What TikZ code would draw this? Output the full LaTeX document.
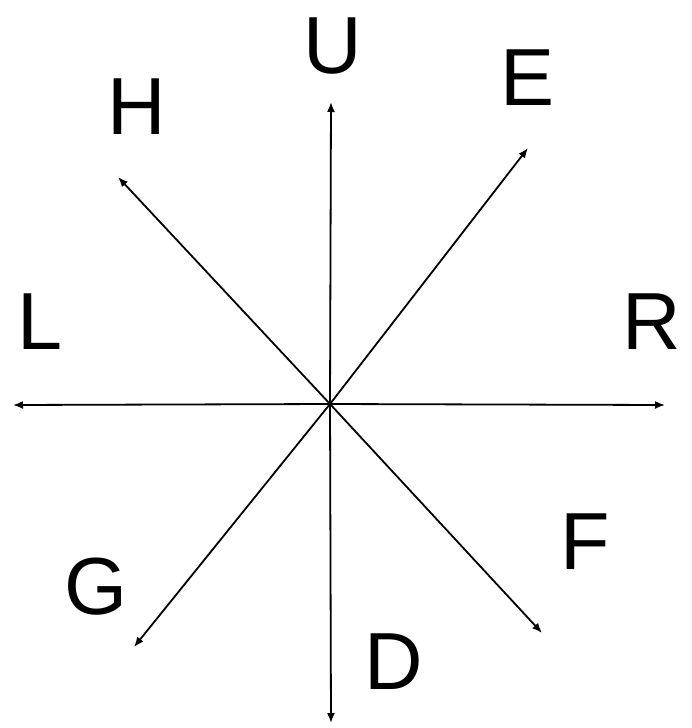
\documentclass[tikz,border=0pt]{standalone}
\usepackage{fontspec}
\setmainfont{Liberation Sans}
\usetikzlibrary{arrows.meta}
\begin{document}
\begin{tikzpicture}[x=1pt,y=-1pt,
  ray/.style={line width=1.8pt,-{Latex[length=10pt,width=8pt]}},
  lbl/.style={inner sep=0pt,font=\fontsize{81}{90}\selectfont}]
\useasboundingbox (0,0) rectangle (691,728);
\coordinate (O) at (330,404);
\coordinate (tU) at (331,102);
\coordinate (tD) at (331,723);
\coordinate (tL) at (13,405);
\coordinate (tR) at (665,405);
\coordinate (tH) at (118,177);
\coordinate (tE) at (528,148);
\coordinate (tG) at (134,647);
\coordinate (tF) at (542,633);
\foreach \t in {tU,tD,tL,tR,tH,tE,tG,tF} \draw[ray] (O) -- (\t);
\node[lbl] (U) at (333,46) {U};
\node[lbl] (H) at (137,107) {H};
\node[lbl] (E) at (528,78) {E};
\node[lbl] (L) at (40,322) {L};
\node[lbl] (R) at (652,322) {R};
\node[lbl] (F) at (585,542) {F};
\node[lbl] (G) at (96,587) {G};
\node[lbl] (D) at (394,662) {D};
\end{tikzpicture}
\end{document}
